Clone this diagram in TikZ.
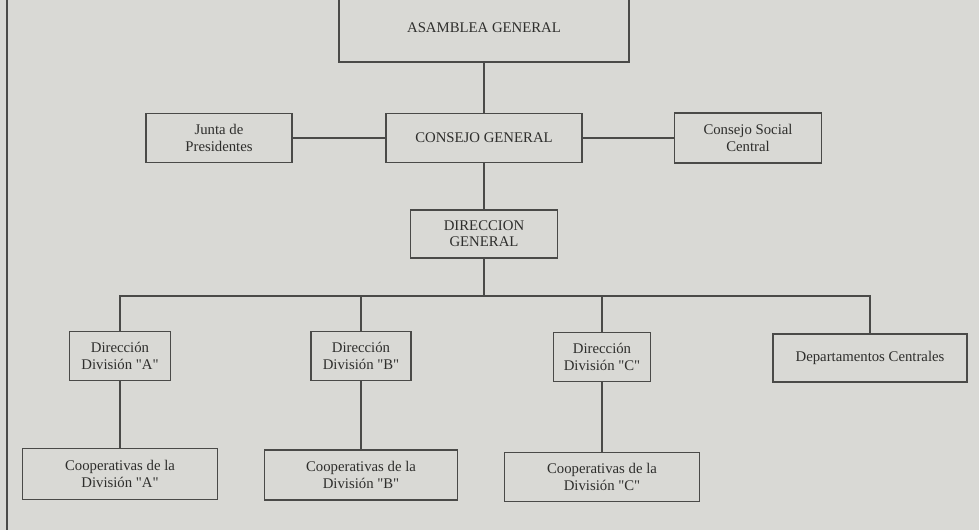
\documentclass[tikz,border=0pt]{standalone}
\usepackage{fontspec}
\setmainfont{Liberation Serif}
\usepackage{tikz}
\usetikzlibrary{positioning}
\definecolor{Paper}{HTML}{D9D9D5}
\definecolor{Ink}{HTML}{4A4A48}
\definecolor{Print}{HTML}{2E2E2C}
\tikzset{
  orgbox/.style={draw=Ink,line width=0.9pt,align=center,inner sep=0pt,
    text=Print,font=\fontsize{10.5}{11.5}\selectfont},
  orgline/.style={draw=Ink,line width=0.9pt}
}
\newcommand{\qq}[1]{\textquotedbl#1\textquotedbl}

\begin{document}
\begin{tikzpicture}[x=0.025cm,y=-0.025cm]
    \fill[Paper] (0,0) rectangle (979,530);
    \useasboundingbox (0,0) rectangle (979,530);
    \clip (0,0) rectangle (979,530);
    \draw[Ink,line width=1.2pt] (7,0)--(7,530);
    % top levels
    \node[orgbox,minimum width=7.25cm,minimum height=1.7cm] (asamblea) at (484,28) {ASAMBLEA GENERAL};
    \node[orgbox,minimum width=4.9cm,minimum height=1.225cm] (consejo) at (484,138) {CONSEJO GENERAL};
    \node[orgbox,minimum width=3.65cm,minimum height=1.225cm] (junta) at (219,138) {Junta de\\Presidentes};
    \node[orgbox,minimum width=3.675cm,minimum height=1.25cm] (social) at (748,138) {Consejo Social\\Central};
    \node[orgbox,minimum width=3.675cm,minimum height=1.2cm] (dirgen) at (484,234) {DIRECCION\\GENERAL};
    % divisiones
    \node[orgbox,minimum width=2.525cm,minimum height=1.225cm] (dirA) at (120,356) {Dirección\\División \qq{A}};
    \node[orgbox,minimum width=2.5cm,minimum height=1.225cm] (dirB) at (361,356) {Dirección\\División \qq{B}};
    \node[orgbox,minimum width=2.425cm,minimum height=1.225cm] (dirC) at (602,357) {Dirección\\División \qq{C}};
    \node[orgbox,minimum width=4.85cm,minimum height=1.2cm] (deptos) at (870,358) {Departamentos Centrales};
    \node[orgbox,minimum width=4.875cm,minimum height=1.275cm] (coopA) at (120,474) {Cooperativas de la\\División \qq{A}};
    \node[orgbox,minimum width=4.825cm,minimum height=1.25cm] (coopB) at (361,475) {Cooperativas de la\\División \qq{B}};
    \node[orgbox,minimum width=4.875cm,minimum height=1.225cm] (coopC) at (602,477) {Cooperativas de la\\División \qq{C}};
    \coordinate (bus) at (484,296);
    % connectors
    \draw[orgline] (asamblea.south)--(consejo.north);
    \draw[orgline] (junta.east)--(consejo.west);
    \draw[orgline] (consejo.east)--(social.west);
    \draw[orgline] (consejo.south)--(dirgen.north);
    \draw[orgline] (dirgen.south)--(bus);
    \draw[orgline] (dirA.north) |- (bus) -| (deptos.north);
    \draw[orgline] (dirB.north)--(dirB.north |- bus);
    \draw[orgline] (dirC.north)--(dirC.north |- bus);
    \draw[orgline] (dirA.south)--(coopA.north);
    \draw[orgline] (dirB.south)--(coopB.north);
    \draw[orgline] (dirC.south)--(coopC.north);
  \end{tikzpicture}
\end{document}
